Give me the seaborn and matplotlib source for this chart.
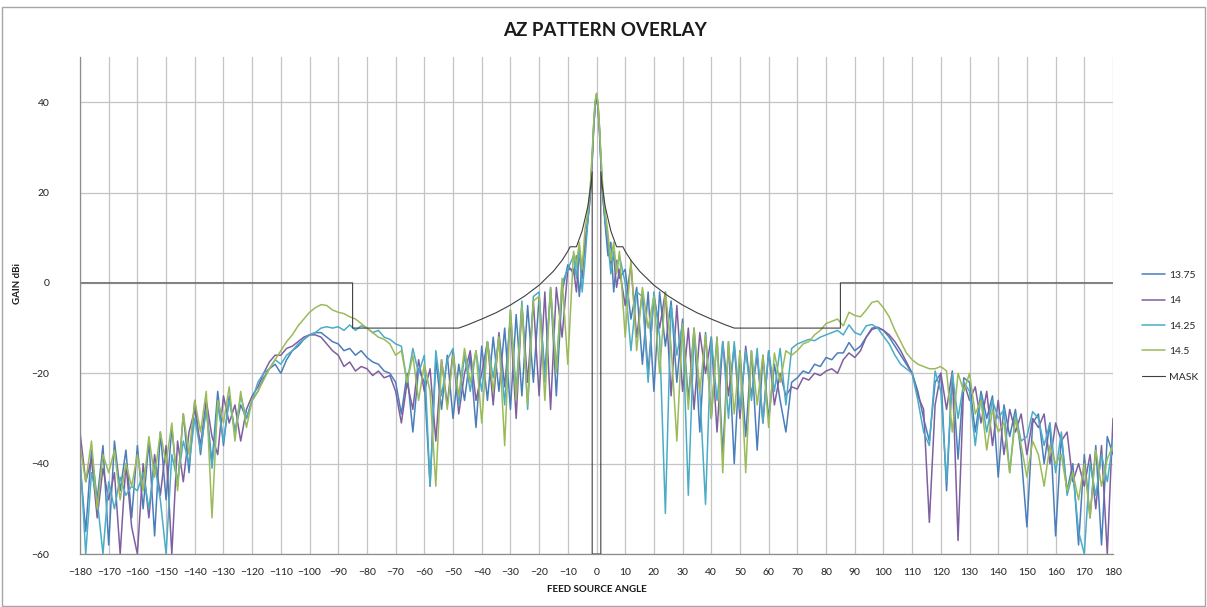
import numpy as np
import pandas as pd
import seaborn as sns
import matplotlib.pyplot as plt
from matplotlib.lines import Line2D
from matplotlib.patches import Rectangle

# Winkelraster: 2 Grad aussen, feiner um die Hauptkeule
angle = np.concatenate([
    np.arange(-180, -9, 2),
    np.arange(-8, -3, 1),
    np.arange(-3, 3.5, 0.5),
    np.arange(4, 9, 1),
    np.arange(10, 181, 2),
])

freqs = ["13.75", "14", "14.25", "14.5"]

gain_1375 = [
    -40, -55, -37, -48, -36, -58, -35, -46, -37, -52,
    -36, -50, -35, -56, -33, -48, -32, -45, -29, -42,
    -26, -38, -27, -40, -24, -36, -25, -33, -27, -30,
    -26, -24, -21, -19, -18, -20, -17, -15, -14, -12.5,
    -11.5, -11, -11, -12, -13, -13.5, -15, -14.5, -16, -15,
    -16.5, -17.5, -18, -19.5, -20, -22, -29, -20, -33, -19,
    -22, -45, -17, -28, -16, -30, -18, -26, -16, -32,
    -14, -26, -12, -24, -10, -28, -7, -25, -5, -22,
    -3, -20, -1.5, -25, -2, 4,
    2, 6, -3, 4, 8, 14, 17, 21, 27, 34, 39, 41, 39, 34, 27, 21, 17, 13, 6, 9, -2, 5, 1,
    3, -8, -1, -18, -2, -24, -2, -14, -4, -22,
    -8, -26, -10, -33, -11, -30, -12, -38, -13, -40,
    -15, -34, -15, -37, -16, -30, -18, -26, -33, -22,
    -21, -19.5, -20, -18, -18.5, -16.5, -17, -15.5, -15.5, -13.2,
    -15, -14, -12, -10, -9.8, -10.5, -12, -14, -16, -18,
    -20, -24, -30, -35, -22, -20, -46, -20, -39, -21,
    -22, -33, -24, -30, -25, -43, -27, -34, -28, -38,
    -54, -31, -29, -40, -31, -56, -34, -46, -40, -58,
    -38, -52, -36, -58, -34, -38,
]

gain_14 = [
    -33, -44, -39, -52, -41, -48, -42, -60, -40, -54,
    -60, -40, -52, -38, -47, -36, -60, -35, -44, -33,
    -28, -36, -26, -34, -38, -25, -31, -27, -35, -28,
    -25, -23, -20, -17.5, -16, -16, -14.5, -14, -13, -12,
    -11.5, -11.5, -12, -13.5, -15, -16, -18.5, -17.5, -19.5, -18.5,
    -19, -20.5, -19.5, -21, -20.5, -24, -31, -22, -28, -17,
    -24, -19, -35, -17, -27, -15, -29, -20, -15, -26,
    -20, -13, -27, -11, -23, -8, -30, -5, -22, -4,
    -25, -2, -28, -1, -12, 3,
    3, -2, 7, 1, 9, 14, 17, 21, 27, 34, 39, 41.5, 39, 34, 27, 21, 17, 14, 8, 4, 6, -1, 3,
    -5, 4, -12, -2, -20, -3, -10, -2, -25, -5,
    -24, -10, -28, -11, -20, -12, -33, -13, -25, -14,
    -30, -14, -25, -16, -31, -15, -27, -20, -25, -23,
    -23.5, -21, -21.5, -20, -20.5, -19.5, -19, -20, -17, -15.5,
    -16.5, -15, -12, -10.3, -9.9, -10.5, -11.5, -13, -15, -17.5,
    -20, -25, -28, -53, -27, -20, -28, -19.5, -57, -22,
    -26, -23, -31, -24, -36, -26, -38, -28, -33, -29,
    -38, -30, -32, -29, -40, -31, -35, -33, -44, -40,
    -45, -38, -50, -36, -60, -30,
]

gain_1425 = [
    -38, -60, -42, -48, -60, -44, -50, -43, -47, -45,
    -46, -42, -50, -40, -48, -60, -38, -44, -35, -40,
    -30, -37, -28, -41, -27, -35, -26, -33, -25, -30,
    -26, -22, -20, -19, -17, -18, -16, -15, -13.5, -12.5,
    -11.5, -11, -10, -9.7, -10, -9.7, -10.5, -9.3, -10.5, -9.5,
    -10, -11, -10.5, -12, -12.5, -13.5, -14, -22, -14.5, -20,
    -16, -45, -15, -25, -17, -14.5, -27, -16, -24, -15,
    -24, -13, -21, -12, -27, -6, -24, -4, -28, -3,
    -2, -22, -1, -19, 0, 3,
    6, 1, 8, -2, 5, 14, 18, 22, 28, 35, 40, 41.8, 40, 35, 28, 22, 18, 14, 9, 2, 7, 3, 6,
    0, -15, -2, -3, -22, -2, -12, -51, -5, -16,
    -9, -47, -11, -24, -49, -12, -26, -13, -30, -13,
    -28, -15, -26, -14.5, -31, -15, -24, -14.5, -27, -14.5,
    -13.5, -13, -12.5, -12.8, -12, -11.5, -11, -10.5, -11.5, -9.3,
    -11, -11.5, -9.5, -9.2, -10, -11.8, -13.5, -16, -18, -19,
    -20, -26, -33, -36, -19.5, -24, -44, -20, -30, -22,
    -24, -36, -25, -33, -26, -30, -28, -42, -29, -35,
    -34, -28.5, -30, -36, -31, -42, -33, -47, -42, -55,
    -60, -40, -47, -38, -44, -35,
]

gain_145 = [
    -36, -44, -35, -50, -38, -42, -37, -48, -40, -45,
    -38, -46, -34, -43, -33, -40, -31, -46, -29, -38,
    -26, -33, -24, -52, -26, -31, -23, -35, -24, -32,
    -26, -24, -21.5, -19, -17, -15, -13, -11.5, -9.5, -8,
    -6.5, -5.5, -4.8, -5, -6, -6.5, -6.8, -7.5, -8, -9,
    -10, -11, -12, -12.5, -13.5, -16, -15, -22, -16, -26,
    -18, -24, -45, -17, -28, -16, -25, -14.5, -22, -15,
    -31, -13, -24, -12, -36, -6, -26, -5, -27, -4,
    -3, -26, -1, -20, 1, -18,
    7, 4, 9, 3, 12, 16, 19, 23, 29, 35, 40, 42, 40, 35, 29, 23, 19, 16, 11, 5, 9, 2, 7,
    -12, 5, -15, -1, -10, -3, -20, -2, -14, -35,
    -9, -28, -10, -24, -11.5, -30, -12, -42, -13, -29,
    -15, -42, -15, -27, -16, -32, -15.5, -22, -15, -16,
    -15, -13.5, -13, -11.5, -10.5, -9, -8.5, -8, -9.5, -6.5,
    -7.2, -7.5, -6, -4.3, -4, -5.5, -7.5, -10.5, -13, -15.5,
    -17, -18, -18.5, -19, -19, -18.5, -19.5, -33, -20, -24,
    -20, -29, -26, -37, -28, -33, -31, -42, -30, -36,
    -43, -35, -38, -45, -36, -40, -38, -46, -42, -48,
    -40, -52, -37, -45, -39, -36,
]

mask_angle = [-180, -85, -85, -48, -45, -40, -35, -30, -25, -20, -15, -12, -10, -9.2, -7,
              -5, -3, -2, -1.5, -1.5, 1.5, 1.5, 2, 3, 5, 7, 9.2, 10, 12, 15, 20, 25,
              30, 35, 40, 45, 48, 85, 85, 180]
mask_gain = [0, 0, -10, -10, -9.3, -8, -6.6, -4.9, -2.9, -0.5, 2.6, 5, 7, 8, 8,
             11.5, 17, 21.5, 24.6, -60, -60, 24.6, 21.5, 17, 11.5, 8, 8, 7, 5, 2.6, -0.5, -2.9,
             -4.9, -6.6, -8, -9.3, -10, -10, 0, 0]

colors = {"13.75": "#4a7ebb", "14": "#7d60a0", "14.25": "#4bacc6", "14.5": "#9bbb59"}
mask_color = "#404040"

frames = []
for name, g in zip(freqs, [gain_1375, gain_14, gain_1425, gain_145]):
    frames.append(pd.DataFrame({"angle": angle, "gain": g, "series": name}))
df = pd.concat(frames, ignore_index=True)

sns.set_theme(style="white")
plt.rcParams["font.family"] = ["Lato", "DejaVu Sans"]

fig = plt.figure(figsize=(12.07, 6.07), dpi=100)
ax = fig.add_axes([80 / 1207, 53 / 607, 1033 / 1207, 497 / 607])

sns.lineplot(data=df, x="angle", y="gain", hue="series", hue_order=freqs,
             palette=colors, estimator=None, sort=False, linewidth=1.1,
             legend=False, ax=ax)
sns.lineplot(x=mask_angle, y=mask_gain, estimator=None, sort=False,
             color=mask_color, linewidth=0.8, ax=ax)

ax.set_xlim(-180, 180)
ax.set_ylim(-60, 50)
ax.set_xticks(range(-180, 181, 10))
ax.set_yticks(range(-60, 41, 20))
ax.grid(True, color="#c4c4c4", linewidth=0.9)
ax.set_axisbelow(True)
for side in ["top", "right"]:
    ax.spines[side].set_visible(False)
for side in ["left", "bottom"]:
    ax.spines[side].set_color("#8c8c8c")
    ax.spines[side].set_linewidth(0.9)
ax.tick_params(axis="x", labelsize=7.5, length=0, pad=10, colors="#202020")
ax.tick_params(axis="y", labelsize=7.5, length=0, pad=22, colors="#202020")
ax.set_xlabel("")
ax.set_ylabel("")

fig.text(605 / 1207, 1 - 30 / 607, "AZ PATTERN OVERLAY", ha="center", va="center",
         fontsize=13.5, fontweight="bold", color="#1a1a1a")
fig.text(597 / 1207, 1 - 589 / 607, "FEED SOURCE ANGLE", ha="center", va="center",
         fontsize=7, fontweight="bold", color="#1a1a1a")
fig.text(17 / 1207, 1 - 283 / 607, "GAIN dBi", ha="center", va="center", rotation=90,
         fontsize=7, fontweight="bold", color="#1a1a1a")

handles = [Line2D([], [], color=colors[f], lw=1.1) for f in freqs]
handles.append(Line2D([], [], color=mask_color, lw=0.8))
fig.legend(handles, freqs + ["MASK"], loc="center left",
           bbox_to_anchor=(1133 / 1207, 1 - 326 / 607), frameon=False,
           fontsize=7.5, handlelength=2.2, labelspacing=1.55, handletextpad=0.4)

fig.patches.append(Rectangle((2 / 1207, 0.002), 1 - 4 / 1207, 1 - 8 / 607,
                             transform=fig.transFigure, fill=False,
                             edgecolor="#a6a6a6", linewidth=1))

fig.savefig("out.png", dpi=100)
